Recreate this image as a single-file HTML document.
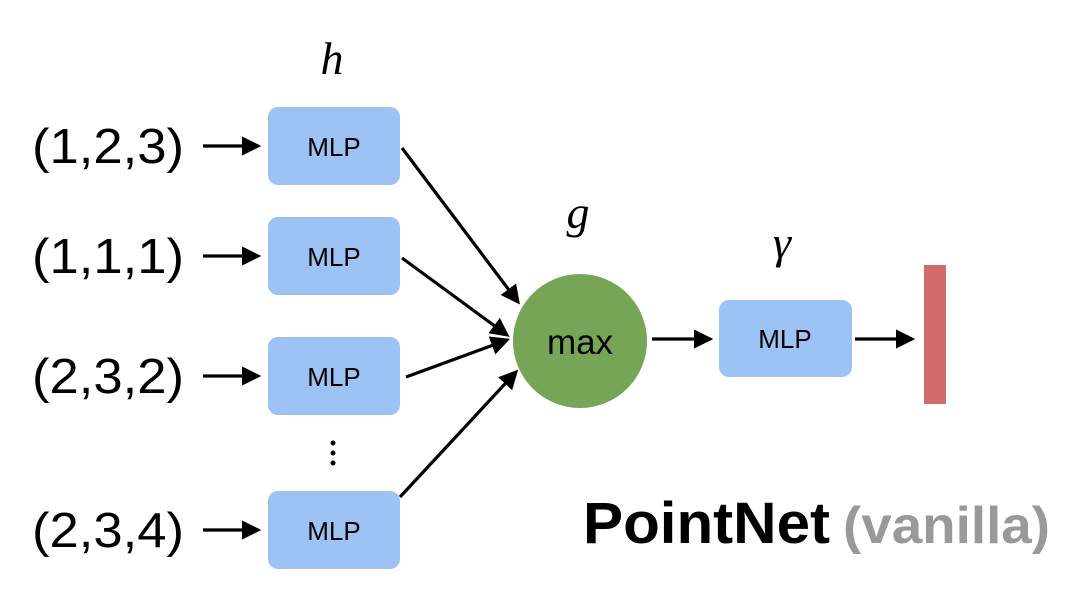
<!DOCTYPE html>
<html><head><meta charset="utf-8"><style>
html,body{margin:0;padding:0;background:#fff;}
svg{display:block;}
</style></head><body>
<svg width="1078" height="600" viewBox="0 0 1078 600" xmlns="http://www.w3.org/2000/svg">
<defs>
<marker id="a" markerWidth="6" markerHeight="6" refX="5" refY="3" orient="auto" markerUnits="strokeWidth">
<path d="M0,0 L6,3 L0,6 z" fill="#000"/>
</marker>
</defs>
<g font-family="Liberation Sans, sans-serif" font-size="49" fill="#000">
<text x="32" y="163" textLength="152" lengthAdjust="spacingAndGlyphs">(1,2,3)</text>
<text x="32" y="273" textLength="152" lengthAdjust="spacingAndGlyphs">(1,1,1)</text>
<text x="32" y="393" textLength="152" lengthAdjust="spacingAndGlyphs">(2,3,2)</text>
<text x="32" y="547" textLength="152" lengthAdjust="spacingAndGlyphs">(2,3,4)</text>
</g>
<g stroke="#000" stroke-width="3.2" fill="none" marker-end="url(#a)">
<line x1="203" y1="146" x2="258" y2="146"/>
<line x1="203" y1="256" x2="258" y2="256"/>
<line x1="203" y1="376" x2="258" y2="376"/>
<line x1="203" y1="530" x2="258" y2="530"/>
<line x1="402" y1="148" x2="518" y2="302"/>
<line x1="402" y1="258" x2="507" y2="335"/>
<line x1="406" y1="377" x2="507" y2="340"/>
<line x1="400" y1="497" x2="516" y2="372"/>
<line x1="652" y1="339" x2="710" y2="339"/>
<line x1="855" y1="339" x2="912" y2="339"/>
</g>
<g fill="#9cc3f3">
<rect x="268" y="107" width="132" height="78" rx="10"/>
<rect x="268" y="217" width="132" height="78" rx="10"/>
<rect x="268" y="337" width="132" height="78" rx="10"/>
<rect x="268" y="491" width="132" height="78" rx="10"/>
<rect x="719" y="300" width="133" height="77" rx="10"/>
</g>
<circle cx="580" cy="341" r="67" fill="#77a557"/>
<rect x="924" y="265" width="22" height="139" fill="#d26c6c"/>
<g font-family="Liberation Sans, sans-serif" font-size="26" fill="#000" text-anchor="middle">
<text x="334" y="156">MLP</text>
<text x="334" y="266">MLP</text>
<text x="334" y="386">MLP</text>
<text x="334" y="540">MLP</text>
<text x="785" y="348">MLP</text>
<text x="580" y="354" font-size="35">max</text>
</g>
<g fill="#000">
<circle cx="333" cy="443" r="2.5"/><circle cx="333" cy="453" r="2.5"/><circle cx="333" cy="463" r="2.5"/>
</g>
<g font-family="Liberation Serif, serif" font-style="italic" font-size="46" fill="#000" text-anchor="middle">
<text x="332" y="74">h</text>
<text x="578" y="228">g</text>
<text x="782" y="258">γ</text>
</g>
<text x="583" y="543" font-family="Liberation Sans, sans-serif" font-weight="bold" font-size="58" fill="#000" textLength="247" lengthAdjust="spacingAndGlyphs">PointNet</text>
<text x="843" y="543" font-family="Liberation Sans, sans-serif" font-weight="bold" font-size="52" fill="#999" textLength="207" lengthAdjust="spacingAndGlyphs">(vanilla)</text>
</svg>
</body></html>
